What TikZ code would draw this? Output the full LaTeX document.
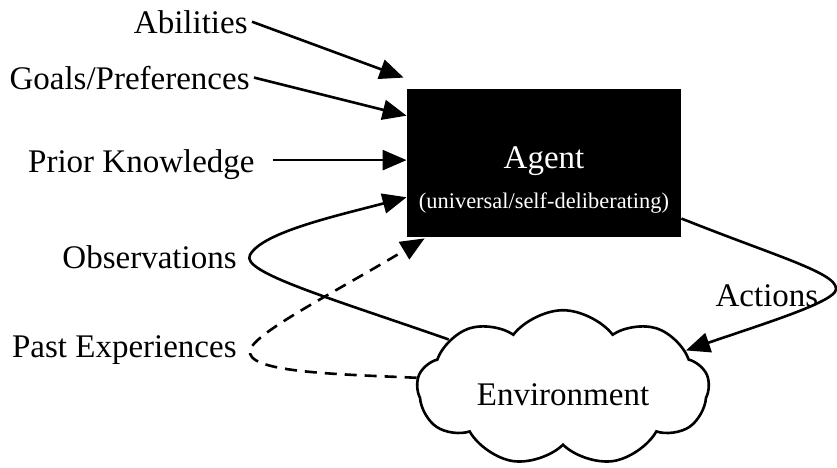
\documentclass[tikz,border=0pt]{standalone}
\usepackage{fontspec}
\setmainfont{Liberation Serif}
\usetikzlibrary{shapes.symbols,arrows.meta,calc}

\begin{document}
\begin{tikzpicture}[x=0.5pt,y=-0.5pt]
    \tikzset{%
      lbl/.style={anchor=base east, inner sep=2pt,
        font=\fontsize{16.5}{20}\selectfont},
      agentbox/.style={rectangle, fill=black, text=white, align=center,
        minimum width=137pt, minimum height=74pt, inner sep=0pt,
        font=\fontsize{16.5}{20}\selectfont},
      envcloud/.style={cloud, draw, line width=1.3pt, cloud puffs=9,
        cloud puff arc=105, aspect=2, minimum width=146pt,
        minimum height=72pt, inner sep=0pt, text height=17pt,
        text depth=0pt, font=\fontsize{16.5}{20}\selectfont},
      flow/.style={line width=1.3pt, -{Triangle[length=12pt,width=10pt]}},
    }
    \useasboundingbox (0,0) rectangle (837,467);
    % agent and environment
    \node[agentbox] (agent) at (544,163) {\rule{0pt}{28pt}Agent\\
      {\fontsize{11.2}{13}\selectfont (universal/self-deliberating)}};
    \node[envcloud] (env) at (563,388) {Environment};
    % inputs
    \node[lbl] (abil) at (252,33) {Abilities};
    \node[lbl] (goals) at (254,89) {Goals/Preferences};
    \node[lbl] (prior) at (259,172) {Prior Knowledge};
    \node[lbl] (obs) at (241,268) {Observations};
    \node[lbl] (past) at (241,357) {Past Experiences};
    \node[lbl, anchor=base] (act) at (767,306) {Actions};

    \draw [flow] (abil.east) -- ($(agent.north west)+(-3,-11)$);
    \draw [flow] (goals.east) -- (agent.161);
    \draw [flow] ([xshift=7pt,yshift=2pt]prior.east)
      -- ([yshift=2pt]prior.east -| agent.west);
    % loop through the environment
    \draw [flow] (env.157) .. controls (330,298) and (240,272) .. (250,255)
      .. controls (262,232) and (340,215) .. (agent.194);
    \draw [flow, dash pattern=on 6pt off 4pt] (env.176)
      .. controls (330,374) and (245,372) .. (250,350)
      .. controls (256,332) and (330,295) .. ($(agent.south west)+(18,1)$);
    \draw [flow] (agent.338) .. controls (780,258) and (845,275) .. (835,292)
      .. controls (825,305) and (760,325) .. (env.17);
\end{tikzpicture}
\end{document}
